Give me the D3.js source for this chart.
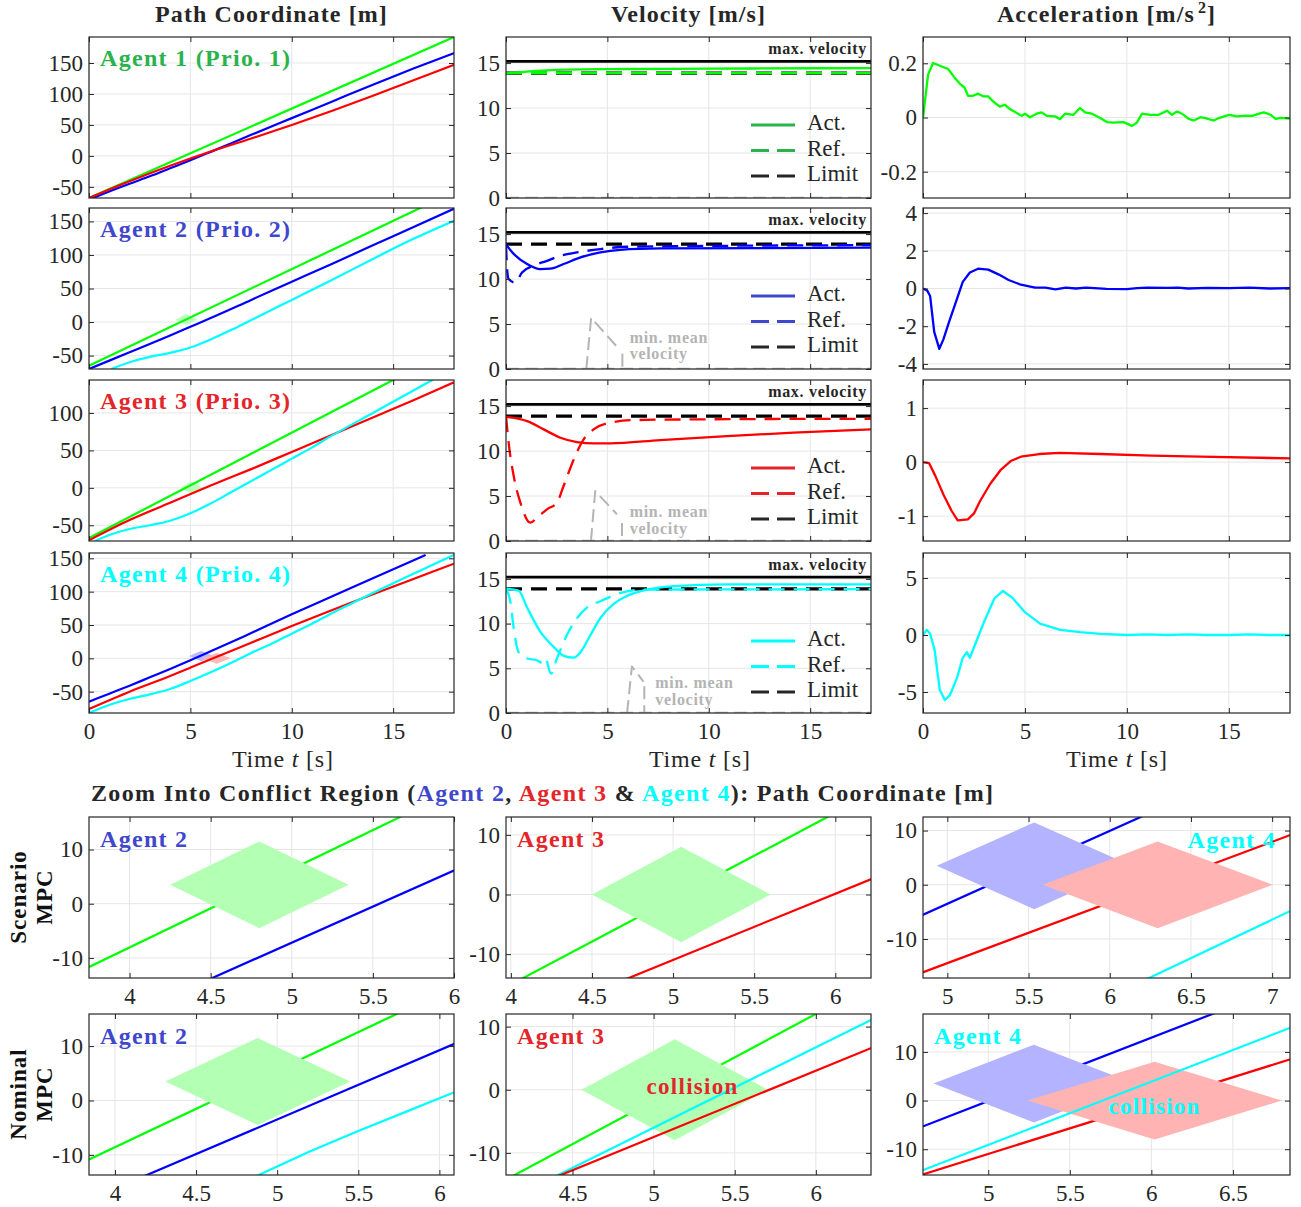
<!DOCTYPE html>
<html>
<head>
<meta charset="utf-8">
<script src="https://cdn.jsdelivr.net/npm/d3@7"></script>
<style>body{margin:0;background:#fff}</style>
</head>
<body>
<svg id="fig" width="1301" height="1207"></svg>
<script>
// ---- data ----
var timeTicks = [0, 5, 10, 15];
var timeDomain = [0, 18];

// path coordinate [m] per agent row (scenario MPC)
var pathDomains = [[-68, 192], [-70, 170], [-71, 144], [-82, 158]];
var pathTicks = [[-50, 0, 50, 100, 150], [-50, 0, 50, 100, 150], [-50, 0, 50, 100], [-50, 0, 50, 100, 150]];
var path1Green = [[0, -68], [18, 192]];
var path1Blue = [[0, -71], [1, -57.5], [2, -45], [3, -33], [4, -20], [5, -7], [6, 6.5], [8, 34], [10, 61], [12, 88], [14, 115], [16, 141], [18, 166]];
var path1Red = [[0, -68], [2, -41], [4, -16], [6, 7], [8, 28], [10, 50], [12, 73], [14, 97], [16, 122], [18, 147]];
var path2Green = [[0, -65], [18, 194]];
var path2Blue = [[0, -70], [2, -45], [4, -20], [5, -7], [6, 6], [8, 33], [10, 60], [12, 87], [15, 128], [18, 169]];
var path2Cyan = [[1.1, -70], [2, -60], [3, -52], [4, -46], [5, -38], [6, -26], [7, -12], [8, 3], [9, 18], [10, 33], [12, 63], [14, 94], [16, 124], [18, 151]];
var path3Green = [[0, -67], [15, 144], [18, 186]];
var path3Red = [[0, -70], [2, -43], [4, -20], [6, 3], [8, 25], [10, 48], [12, 71], [14, 94], [16, 117], [18, 141]];
var path3Cyan = [[0.3, -71], [1, -63], [2, -55], [3, -50], [4, -44], [5, -34], [6, -21], [7, -6], [8, 9], [9, 24], [10, 39], [11, 54], [12, 70], [14, 100], [16, 130], [17, 145]];
var path4Blue = [[0, -65], [1, -53], [2, -41], [3, -28.5], [4, -16], [5, -3], [6, 10.5], [7, 24], [8, 38], [10, 66], [12, 93], [14, 120], [16.6, 155]];
var path4Red = [[0, -76], [2, -50], [4, -26.5], [5, -14], [6, -1.5], [8, 23.5], [10, 48.5], [12, 72.5], [14, 96], [16, 119], [18, 142]];
var path4Cyan = [[0, -82], [1, -70], [2, -61], [3, -54], [4, -46], [5, -34], [6, -21], [7, -7], [8, 8], [9, 22], [10, 37], [11, 52], [12, 68], [13, 83], [14, 98], [16, 127], [18, 155]];

// velocity [m/s]
var velTicks = [0, 5, 10, 15];
var velDomain = [0, 17.9];
var velLimit = 13.89;
var velMax = 15.2;
var velAct1 = [[0, 13.89], [0.5, 13.95], [1, 14.05], [2, 14.2], [3, 14.28], [5, 14.33], [8, 14.35], [12, 14.4], [18, 14.44]];
var velRef1 = [[0, 13.89], [18, 13.89]];
var velAct2 = [[0, 13.85], [0.38, 12.8], [1.04, 11.67], [1.69, 11.1], [2.19, 11.15], [2.84, 11.67], [3.67, 12.41], [4.65, 12.96], [5.64, 13.25], [7.6, 13.4], [18, 13.5]];
var velRef2 = [[0, 13.89], [0.05, 11.3], [0.13, 10.0], [0.46, 9.6], [0.79, 10.74], [1.36, 11.5], [2.02, 12.03], [2.68, 12.59], [3.5, 12.96], [4.65, 13.33], [5.97, 13.59], [18, 13.77]];
var velAct3 = [[0, 13.8], [1.04, 13.33], [1.86, 12.41], [2.68, 11.48], [3.5, 11.0], [4.32, 10.85], [5.14, 10.85], [7.61, 11.22], [10.9, 11.67], [14.18, 12.04], [18, 12.4]];
var velRef3 = [[0, 13.89], [0.13, 10.93], [0.38, 7.22], [0.71, 4.26], [1.2, 2.04], [1.53, 2.59], [2.02, 3.52], [2.51, 4.26], [2.84, 6.11], [3.34, 9.07], [3.83, 11.3], [4.32, 12.41], [5.14, 13.15], [6.3, 13.44], [9.25, 13.52], [18, 13.59]];
var velAct4 = [[0, 13.9], [0.62, 13.7], [1.04, 11.8], [1.69, 9.1], [2.35, 7.4], [2.84, 6.4], [3.34, 6.2], [3.67, 6.8], [4.16, 8.7], [4.65, 10.6], [5.31, 12.2], [5.97, 13.1], [6.95, 13.8], [8.27, 14.2], [10.9, 14.4], [18, 14.4]];
var velRef4 = [[0, 13.89], [0.21, 12.5], [0.38, 9.5], [0.62, 6.8], [1.04, 6.1], [1.53, 5.9], [1.78, 5.6], [1.94, 6.1], [2.22, 4.4], [2.51, 6.1], [3.0, 8.7], [3.5, 10.6], [3.99, 11.8], [4.65, 12.5], [5.47, 13.3], [6.79, 13.8], [18, 13.85]];
// "min. mean velocity" annotation (rows 2-4)
var minMeanArrow = [null, [[3.96, 0], [4.2, 5.7], [5.5, 2.4]], [[4.19, 0], [4.4, 5.55], [5.47, 2.97]], [[5.97, 0], [6.21, 5.2], [6.78, 3.5]]];
var minMeanStem = [null, [[5.74, 1.7], [5.74, 0]], [[5.72, 2.0], [5.72, 0]], [[6.82, 3.0], [6.82, 0]]];
var minMeanLabel = [null, [6.1, 3.33, 1.48], [6.1, 3.08, 1.22], [7.36, 3.16, 1.3]];

// acceleration [m/s^2]
var accDomains = [[-0.297, 0.297], [-4.27, 4.27], [-1.46, 1.52], [-6.84, 7.19]];
var accTicks = [[-0.2, 0, 0.2], [-4, -2, 0, 2, 4], [-1, 0, 1], [-5, 0, 5]];
var acc1 = [[0, 0], [0.25, 0.158], [0.49, 0.201], [1.23, 0.179], [1.56, 0.146], [1.8, 0.125], [2.05, 0.109], [2.21, 0.08], [2.46, 0.08], [2.7, 0.088], [2.95, 0.078], [3.2, 0.078], [3.44, 0.059], [3.77, 0.04], [4.02, 0.047], [4.26, 0.031], [4.84, 0.006], [5.0, 0.014], [5.25, 0.001], [5.57, 0.014], [5.82, 0.019], [6.07, 0.006], [6.48, 0.004], [6.72, -0.006], [6.97, 0.014], [7.38, 0.01], [7.7, 0.035], [7.95, 0.019], [8.28, 0.014], [8.69, -0.002], [9.02, -0.017], [9.34, -0.019], [9.84, -0.017], [10.25, -0.031], [10.49, -0.019], [10.74, 0.014], [11.15, 0.01], [11.56, 0.01], [11.97, 0.025], [12.21, 0.01], [12.46, 0.022], [12.7, 0.014], [13.03, -0.005], [13.28, -0.011], [13.61, 0.001], [13.85, -0.002], [14.26, -0.011], [14.51, -0.002], [15.0, 0.01], [15.41, 0.004], [15.82, 0.007], [16.15, 0.006], [16.48, 0.014], [16.72, 0.019], [17.05, 0.01], [17.3, -0.005], [17.54, -0.001], [18, -0.004]];
var acc2 = [[0, 0], [0.2, -0.1], [0.35, -0.4], [0.55, -2.3], [0.8, -3.2], [1.0, -2.7], [1.3, -1.7], [1.65, -0.6], [1.95, 0.35], [2.3, 0.85], [2.7, 1.05], [3.2, 1.0], [3.7, 0.75], [4.2, 0.45], [4.8, 0.2], [5.5, 0.05], [6.0, 0.05], [6.5, -0.05], [7, 0.05], [7.5, 0.0], [8, 0.05], [9, -0.02], [10, -0.03], [10.5, 0.02], [11, 0.05], [12, 0.03], [12.5, 0.05], [13, 0.0], [14, 0.03], [15, 0.02], [16, 0.05], [17, 0.0], [18, 0.02]];
var acc3 = [[0, 0], [0.3, -0.02], [0.6, -0.25], [1.0, -0.6], [1.4, -0.9], [1.7, -1.08], [2.2, -1.06], [2.5, -0.95], [2.8, -0.72], [3.3, -0.4], [3.8, -0.15], [4.3, 0.02], [4.8, 0.1], [5.7, 0.15], [6.7, 0.17], [8.7, 0.15], [11.2, 0.12], [13.6, 0.1], [18, 0.07]];
var acc4 = [[0, 0], [0.18, 0.45], [0.35, 0.1], [0.57, -1.3], [0.82, -4.8], [1.07, -5.7], [1.31, -5.3], [1.66, -3.8], [1.95, -2.0], [2.15, -1.5], [2.3, -2.0], [2.54, -0.9], [3.03, 1.3], [3.5, 3.2], [3.92, 3.86], [4.36, 3.3], [5.0, 2.0], [5.74, 1.0], [6.73, 0.45], [7.7, 0.25], [8.7, 0.1], [10, 0.0], [11, 0.05], [12, 0.0], [13, 0.05], [14, 0.0], [15, 0.0], [16, 0.05], [17, 0.0], [18, 0.0]];

// zoom into the conflict region: [t, s, halfWidth t, halfHeight s, agent]
var scenZones2 = [[4.8, 3.5, 0.55, 8, "g"]];
var scenZones3 = [[5.05, 0, 0.55, 8, "g"]];
var scenZones4 = [[5.535, 3.5, 0.6, 8, "b"], [6.295, 0, 0.707, 8, "r"]];
var nomZones2 = [[4.88, 3.5, 0.57, 8, "g"]];
var nomZones3 = [[5.13, 0, 0.575, 8, "g"]];
var nomZones4 = [[5.28, 3.5, 0.615, 8, "b"], [6.02, 0, 0.78, 8, "r"]];

var scen2Green = [[3.7, -12.4], [6.0, 20.8]];
var scen2Blue = [[4.45, -14.5], [6.05, 6.8]];
var scen3Green = [[4.0, -15.1], [6.0, 13.7]];
var scen3Red = [[4.7, -14.3], [6.25, 2.9]];
var scen4Blue = [[4.8, -6.2], [6.25, 13.3]];
var scen4Red = [[4.8, -16.7], [7.15, 9.6]];
var scen4Cyan = [[6.2, -17.8], [7.15, -4.3]];
var nom2Green = [[3.8, -11.4], [5.8, 16.8]];
var nom2Blue = [[4.15, -14.3], [6.1, 10.5]];
var nom2Cyan = [[4.85, -14.2], [5.2, -9.4], [5.5, -5.6], [5.8, -2.0], [6.1, 1.6]];
var nom3Green = [[4.1, -14.1], [6.05, 12.7]];
var nom3Cyan = [[4.38, -13.9], [6.36, 11.3]];
var nom3Red = [[4.4, -13.8], [6.36, 6.8]];
var nom4Blue = [[4.55, -5.95], [6.42, 18.4]];
var nom4Cyan = [[4.55, -14.95], [6.9, 15.6]];
var nom4Red = [[4.55, -15.7], [6.9, 9.0]];

// ---- drawing ----
var FONT = "'Liberation Serif','Times New Roman',serif";
var INK = "#262626";
var COL = {g: "#00ff00", b: "#0000ff", r: "#ff0000", c: "#00ffff"};
var TXT = {g: "#2bb24c", b: "#3f48cc", r: "#e3262b", c: "#00ffff"};
var ZONE = {g: "#b3ffb3", b: "#b3b3ff", r: "#ffb3b3"};

var svg = d3.select("#fig");
var colBox = [{l: 89, r: 454}, {l: 506, r: 871}, {l: 923, r: 1290}];
var topRows = [{t: 37, b: 198}, {t: 208, b: 369}, {t: 380, b: 541}, {t: 553, b: 713}];
var lowRows = [{t: 817, b: 978}, {t: 1014, b: 1175}];
var clipN = 0;

function panel(col, row, xd, yd, xt, yt, showX)
{
	var box = {l: col.l, r: col.r, t: row.t, b: row.b};
	var x = d3.scaleLinear().domain(xd).range([box.l, box.r]);
	var y = d3.scaleLinear().domain(yd).range([box.b, box.t]);
	var g = svg.append("g");
	var id = "clip" + (clipN++);
	g.append("clipPath").attr("id", id).append("rect")
		.attr("x", box.l).attr("y", box.t).attr("width", box.r - box.l).attr("height", box.b - box.t);
	var grid = g.append("g").attr("stroke", "#e6e6e6").attr("stroke-width", 1);
	grid.selectAll(".gx").data(xt).enter().append("line")
		.attr("x1", function(d){ return x(d); }).attr("x2", function(d){ return x(d); })
		.attr("y1", box.t).attr("y2", box.b);
	grid.selectAll(".gy").data(yt).enter().append("line")
		.attr("y1", function(d){ return y(d); }).attr("y2", function(d){ return y(d); })
		.attr("x1", box.l).attr("x2", box.r);
	var plot = g.append("g").attr("clip-path", "url(#" + id + ")");
	var over = g.append("g");
	var fmt = function(d){ return String(d); };
	var axes = [
		[d3.axisLeft(y).tickValues(yt).tickSize(-5).tickPadding(6).tickFormat(fmt), "translate(" + box.l + ",0)"],
		[d3.axisRight(y).tickValues(yt).tickSize(-5).tickFormat(""), "translate(" + box.r + ",0)"],
		[d3.axisBottom(x).tickValues(xt).tickSize(-5).tickPadding(10).tickFormat(showX ? fmt : ""), "translate(0," + box.b + ")"],
		[d3.axisTop(x).tickValues(xt).tickSize(-5).tickFormat(""), "translate(0," + box.t + ")"]
	];
	axes.forEach(function(a)
	{
		var ag = over.append("g").attr("transform", a[1]).call(a[0]);
		ag.attr("font-family", FONT).attr("font-size", 23).attr("color", INK);
		ag.select(".domain").remove();
		ag.selectAll("line").attr("stroke-width", 1);
	});
	over.append("rect").attr("x", box.l).attr("y", box.t)
		.attr("width", box.r - box.l).attr("height", box.b - box.t)
		.attr("fill", "none").attr("stroke", INK).attr("stroke-width", 1.2);
	return {x: x, y: y, plot: plot, over: over, box: box};
}

function drawLine(p, data, color, width, dash, smooth)
{
	var line = d3.line().x(function(d){ return p.x(d[0]); }).y(function(d){ return p.y(d[1]); });
	if(smooth)
		line.curve(d3.curveMonotoneX);
	var path = p.plot.append("path").attr("d", line(data)).attr("fill", "none")
		.attr("stroke", color).attr("stroke-width", width).attr("stroke-linejoin", "round");
	if(dash)
		path.attr("stroke-dasharray", dash);
	return path;
}

function drawZones(p, zones, opacity)
{
	zones.forEach(function(z)
	{
		var pts = [[z[0] - z[2], z[1]], [z[0], z[1] + z[3]], [z[0] + z[2], z[1]], [z[0], z[1] - z[3]]];
		p.plot.append("polygon")
			.attr("points", pts.map(function(q){ return p.x(q[0]) + "," + p.y(q[1]); }).join(" "))
			.attr("fill", ZONE[z[4]]).attr("fill-opacity", opacity);
	});
}

function label(p, txt, color, xpos, ypos, anchor, size)
{
	return p.over.append("text").attr("x", xpos).attr("y", ypos)
		.attr("text-anchor", anchor || "start").attr("dominant-baseline", "middle")
		.attr("font-family", FONT).attr("font-weight", "bold").attr("font-size", size || 24)
		.attr("letter-spacing", 1.3).attr("fill", color).text(txt);
}

// column titles
var titles = ["Path Coordinate [m]", "Velocity [m/s]", "Acceleration [m/s"];
titles.forEach(function(t, i)
{
	var tx = svg.append("text").attr("x", (colBox[i].l + colBox[i].r) / 2).attr("y", 16)
		.attr("text-anchor", "middle").attr("dominant-baseline", "middle")
		.attr("font-family", FONT).attr("font-weight", "bold").attr("font-size", 24)
		.attr("letter-spacing", 1.1).attr("fill", INK).text(t);
	if(i == 2)
	{
		tx.append("tspan").attr("font-size", 16).attr("dx", 3).attr("dy", -7).text("2");
		tx.append("tspan").attr("dy", 7).text("]");
	}
});

// path coordinate column
var pathSets = [
	[[path1Green, "g"], [path1Blue, "b"], [path1Red, "r"]],
	[[path2Green, "g"], [path2Blue, "b"], [path2Cyan, "c"]],
	[[path3Green, "g"], [path3Red, "r"], [path3Cyan, "c"]],
	[[path4Blue, "b"], [path4Red, "r"], [path4Cyan, "c"]]
];
var agentKeys = ["g", "b", "r", "c"];
var topZones = [[], scenZones2, scenZones3, scenZones4];
pathSets.forEach(function(set, i)
{
	var p = panel(colBox[0], topRows[i], timeDomain, pathDomains[i], timeTicks, pathTicks[i], i == 3);
	drawZones(p, topZones[i], 0.9);
	set.forEach(function(s){ drawLine(p, s[0], COL[s[1]], 2.2, null, true); });
	label(p, "Agent " + (i + 1) + " (Prio. " + (i + 1) + ")", TXT[agentKeys[i]], p.box.l + 11, p.box.t + 23);
});

// velocity column
var velSets = [[velAct1, velRef1], [velAct2, velRef2], [velAct3, velRef3], [velAct4, velRef4]];
velSets.forEach(function(set, i)
{
	var p = panel(colBox[1], topRows[i], timeDomain, velDomain, timeTicks, velTicks, i == 3);
	var key = agentKeys[i];
	drawLine(p, [[0, 0], [18, 0]], "#b4b4b4", 2.5, "13,6");
	if(minMeanArrow[i])
	{
		drawLine(p, minMeanArrow[i], "#b4b4b4", 2, "13,6");
		drawLine(p, minMeanStem[i], "#b4b4b4", 2, "13,6");
		var lb = minMeanLabel[i];
		["min. mean", "velocity"].forEach(function(t, k)
		{
			p.over.append("text").attr("x", p.x(lb[0])).attr("y", p.y(lb[1 + k]))
				.attr("dominant-baseline", "middle").attr("font-family", FONT).attr("font-weight", "bold")
				.attr("font-size", 16).attr("letter-spacing", 0.7).attr("fill", "#b4b4b4").text(t);
		});
	}
	drawLine(p, [[0, velMax], [18, velMax]], "#000", 2.8);
	drawLine(p, [[0, velLimit], [18, velLimit]], "#000", 3.2, "16,9");
	drawLine(p, set[1], COL[key], 2.3, "16,9", true);
	drawLine(p, set[0], COL[key], 2.3, null, true);
	p.over.append("text").attr("x", p.box.r - 4).attr("y", p.y(velMax) - 7)
		.attr("text-anchor", "end").attr("font-family", FONT).attr("font-weight", "bold")
		.attr("font-size", 16).attr("letter-spacing", 0.7).attr("fill", INK).text("max. velocity");
	// legend
	var items = [["Act.", TXT[key], null], ["Ref.", TXT[key], "18,8"], ["Limit", INK, "18,8"]];
	var lg = p.over.append("g");
	items.forEach(function(it, k)
	{
		var yy = p.box.t + 88 + k * 25.5;
		var ln = lg.append("line").attr("x1", 751).attr("x2", 795).attr("y1", yy).attr("y2", yy)
			.attr("stroke", it[1]).attr("stroke-width", 3);
		if(it[2])
			ln.attr("stroke-dasharray", it[2]);
		lg.append("text").attr("x", 807).attr("y", yy).attr("dominant-baseline", "middle")
			.attr("font-family", FONT).attr("font-size", 23).attr("fill", INK).text(it[0]);
	});
});

// acceleration column
var accSets = [acc1, acc2, acc3, acc4];
accSets.forEach(function(a, i)
{
	var p = panel(colBox[2], topRows[i], timeDomain, accDomains[i], timeTicks, accTicks[i], i == 3);
	drawLine(p, a, COL[agentKeys[i]], 2.3, null, false);
});

// x-axis labels
colBox.forEach(function(c)
{
	var tx = svg.append("text").attr("x", c.l + 143).attr("y", 761)
		.attr("dominant-baseline", "middle").attr("font-family", FONT).attr("font-size", 24)
		.attr("letter-spacing", 0.8).attr("fill", INK).text("Time ");
	tx.append("tspan").attr("font-style", "italic").text("t");
	tx.append("tspan").text(" [s]");
});

// zoom section title
var zt = svg.append("text").attr("x", 91).attr("y", 795).attr("dominant-baseline", "middle")
	.attr("font-family", FONT).attr("font-weight", "bold").attr("font-size", 24)
	.attr("fill", INK).attr("textLength", 902).attr("lengthAdjust", "spacing");
[["Zoom Into Conflict Region (", INK], ["Agent 2", TXT.b], [", ", INK], ["Agent 3", TXT.r],
 [" & ", INK], ["Agent 4", TXT.c], ["): Path Coordinate [m]", INK]].forEach(function(s)
{
	zt.append("tspan").attr("fill", s[1]).text(s[0]);
});

// row labels
[["Scenario", "MPC", 897], ["Nominal", "MPC", 1094]].forEach(function(r)
{
	[r[0], r[1]].forEach(function(t, k)
	{
		svg.append("text").attr("transform", "translate(" + (21 + k * 26) + "," + r[2] + ") rotate(-90)")
			.attr("text-anchor", "middle").attr("dominant-baseline", "middle")
			.attr("font-family", FONT).attr("font-weight", "bold").attr("font-size", 23)
			.attr("letter-spacing", 1).attr("fill", "#111").text(t);
	});
});

// zoom panels: [row, col, xDomain, yDomain, xTicks, lines under zones, zones, lines over zones, label, label side, collision]
var zoomPanels = [
	[0, 0, [3.75, 6], [-13.7, 16], [4, 4.5, 5, 5.5, 6], [[scen2Green, "g"]], scenZones2, [[scen2Blue, "b"]], "b", "left", null],
	[0, 1, [3.97, 6.22], [-14, 13], [4, 4.5, 5, 5.5, 6], [[scen3Green, "g"]], scenZones3, [[scen3Red, "r"]], "r", "left", null],
	[0, 2, [4.85, 7.11], [-17.2, 12.5], [5, 5.5, 6, 6.5, 7], [[scen4Blue, "b"], [scen4Red, "r"]], scenZones4, [[scen4Cyan, "c"]], "c", "right", null],
	[1, 0, [3.84, 6.09], [-13.7, 15.9], [4, 4.5, 5, 5.5, 6], [[nom2Green, "g"]], nomZones2, [[nom2Blue, "b"], [nom2Cyan, "c"]], "b", "left", null],
	[1, 1, [4.09, 6.34], [-13.5, 12], [4.5, 5, 5.5, 6], [[nom3Green, "g"]], nomZones3, [[nom3Cyan, "c"], [nom3Red, "r"]], "r", "left", [5.24, 0.2]],
	[1, 2, [4.6, 6.85], [-15.3, 17.8], [5, 5.5, 6, 6.5], [[nom4Blue, "b"], [nom4Red, "r"]], nomZones4, [[nom4Cyan, "c"]], "c", "left", [6.02, -1.6]]
];
var agentName = {b: "Agent 2", r: "Agent 3", c: "Agent 4"};
zoomPanels.forEach(function(z)
{
	var p = panel(colBox[z[1]], lowRows[z[0]], z[2], z[3], z[4], [-10, 0, 10], true);
	z[5].forEach(function(s){ drawLine(p, s[0], COL[s[1]], 2.2); });
	drawZones(p, z[6], 1);
	z[7].forEach(function(s){ drawLine(p, s[0], COL[s[1]], 2.2); });
	if(z[9] == "left")
		label(p, agentName[z[8]], TXT[z[8]], p.box.l + 11, p.box.t + 24);
	else
		label(p, agentName[z[8]], TXT[z[8]], p.box.r - 14, p.box.t + 25, "end");
	if(z[10])
		label(p, "collision", TXT[z[8]], p.x(z[10][0]), p.y(z[10][1]), "middle", 23);
});
</script>
</body>
</html>
